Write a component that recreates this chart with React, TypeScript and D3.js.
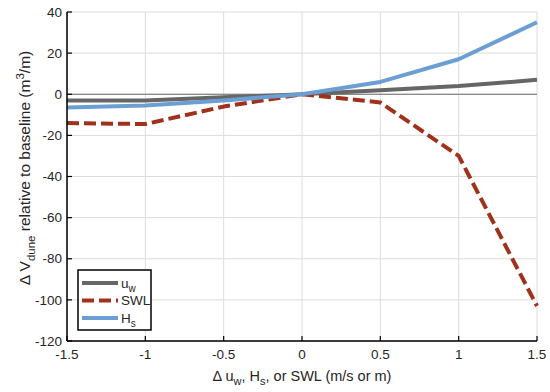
import React from "react";
import * as d3 from "d3";

// values
const xVals = [-1.5, -1, -0.5, 0, 0.5, 1, 1.5];
const uwVals = [-3, -3, -1.5, 0, 2, 4, 7];
const swlVals = [-14, -14.5, -6, 0, -4, -30, -103];
const hsVals = [-6.5, -5.5, -3, 0, 6, 17, 35];
const xTicks = [-1.5, -1, -0.5, 0, 0.5, 1, 1.5];
const yTicks = [40, 20, 0, -20, -40, -60, -80, -100, -120];

const W = 550, H = 392;
const margin = { top: 12, right: 13, bottom: 51, left: 67 };
const font = "'Liberation Sans', Arial, Helvetica, sans-serif";

export default function App() {
  const x = d3.scaleLinear().domain([-1.5, 1.5]).range([margin.left, W - margin.right]);
  const y = d3.scaleLinear().domain([-120, 40]).range([H - margin.bottom, margin.top]);

  const line = d3
    .line<number>()
    .x((d, i) => x(xVals[i]))
    .y((d) => y(d));

  const series = [
    { name: "uw", vals: uwVals, color: "#666666", dash: "" },
    { name: "SWL", vals: swlVals, color: "#a0321c", dash: "12,5" },
    { name: "Hs", vals: hsVals, color: "#6b9fd3", dash: "" },
  ];

  const x0 = margin.left, x1 = W - margin.right;
  const y0 = H - margin.bottom, y1 = margin.top;

  return (
    <svg width={W} height={H} style={{ position: "absolute", left: 0, top: 0, background: "#fff" }} fontFamily={font}>
      {/* grid */}
      {xTicks.map((t) => (
        <line key={"gx" + t} x1={x(t)} x2={x(t)} y1={y1} y2={y0} stroke="#dcdcdc" strokeWidth={1} />
      ))}
      {yTicks.map((t) => (
        <line key={"gy" + t} x1={x0} x2={x1} y1={y(t)} y2={y(t)} stroke="#dcdcdc" strokeWidth={1} />
      ))}
      <line x1={x0} x2={x1} y1={y(0)} y2={y(0)} stroke="#6e6e6e" strokeWidth={1.2} />

      {/* series */}
      {series.map((s) => (
        <path key={s.name} d={line(s.vals) || ""} fill="none" stroke={s.color} strokeWidth={4}
          strokeDasharray={s.dash || undefined} strokeLinejoin="round" />
      ))}

      {/* axes */}
      <line x1={x0} x2={x0} y1={y1} y2={y0} stroke="#000" strokeWidth={1.5} />
      <line x1={x0} x2={x1} y1={y0} y2={y0} stroke="#000" strokeWidth={1.5} />
      {yTicks.map((t) => (
        <g key={"ty" + t}>
          <line x1={x0} x2={x0 + 5} y1={y(t)} y2={y(t)} stroke="#000" strokeWidth={1.2} />
          <text x={x0 - 5} y={y(t)} dy="0.35em" textAnchor="end" fontSize={13.5} fill="#262626">{t}</text>
        </g>
      ))}
      {xTicks.map((t) => (
        <g key={"tx" + t}>
          <line x1={x(t)} x2={x(t)} y1={y0} y2={y0 - 5} stroke="#000" strokeWidth={1.2} />
          <text x={x(t)} y={y0 + 18} textAnchor="middle" fontSize={13.5} fill="#262626">{t}</text>
        </g>
      ))}

      {/* axis labels */}
      <text x={(x0 + x1) / 2} y={381} textAnchor="middle" fontSize={14.5} fill="#262626">
        Δ u<tspan fontSize={11} dy={4}>w</tspan>
        <tspan dy={-4}>, H</tspan><tspan fontSize={11} dy={4}>s</tspan>
        <tspan dy={-4}>, or SWL (m/s or m)</tspan>
      </text>
      <text transform={`translate(30,${168}) rotate(-90)`} textAnchor="middle" fontSize={15.5} fill="#262626">
        Δ V<tspan fontSize={11.5} dy={5}>dune</tspan>
        <tspan dy={-5}> relative to baseline (m</tspan><tspan fontSize={11.5} dy={-6}>3</tspan>
        <tspan dy={6}>/m)</tspan>
      </text>

      {/* legend */}
      <rect x={78} y={270} width={73} height={60} fill="#fff" stroke="#000" strokeWidth={1.5} />
      {series.map((s, i) => {
        const ly = 283 + i * 17.5;
        return (
          <g key={"lg" + s.name}>
            <line x1={82} x2={118} y1={ly} y2={ly} stroke={s.color} strokeWidth={4}
              strokeDasharray={s.dash || undefined} />
            <text x={121} y={ly} dy="0.35em" fontSize={13.5} fill="#262626">
              {s.name === "uw" ? (
                <>u<tspan fontSize={10} dy={4}>w</tspan></>
              ) : s.name === "Hs" ? (
                <>H<tspan fontSize={10} dy={4}>s</tspan></>
              ) : (
                "SWL"
              )}
            </text>
          </g>
        );
      })}
    </svg>
  );
}
